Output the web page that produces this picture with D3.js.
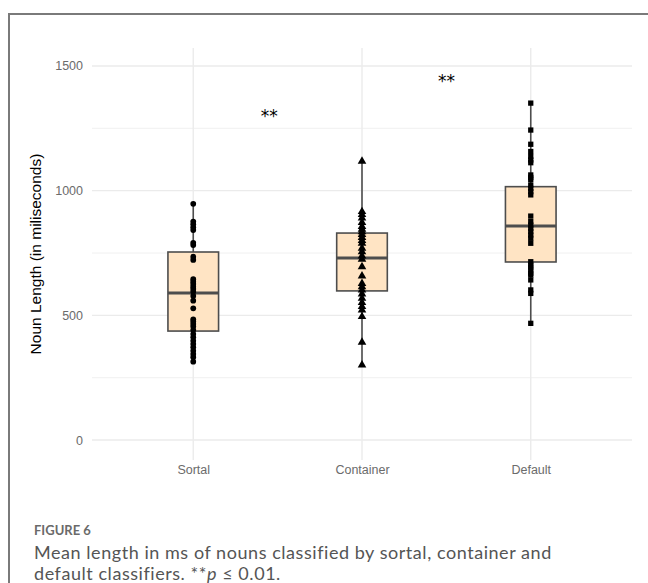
<!DOCTYPE html>
<html>
<head>
<meta charset="utf-8">
<script src="https://cdn.jsdelivr.net/npm/d3@7"></script>
<style>
  body { margin: 0; background: #fff; }
  svg { display: block; }
</style>
</head>
<body>
<div id="chart"></div>
<script>
// data
var categories = ["Sortal", "Container", "Default"];
var shapes = [d3.symbolCircle, d3.symbolTriangle, d3.symbolSquare];

// box stats: [lower whisker, q1, median, q3, upper whisker]
var sortalBox = [309, 437, 590, 754, 950];
var containerBox = [300, 598, 730, 830, 1121];
var defaultBox = [468, 714, 858, 1016, 1352];

var sortalPoints = [947, 876, 865, 853, 842, 791, 782, 735, 722, 645, 635, 626, 615, 606, 595,
  578, 559, 528, 484, 475, 465, 455, 441, 425, 412, 398, 385, 372, 358, 345, 332, 314];
var containerPoints = [1118, 916, 904, 890, 872, 856, 845, 835, 824, 812, 800, 789, 769, 755,
  738, 725, 695, 658, 628, 615, 602, 586, 568, 551, 535, 521, 495, 392, 301];
var defaultPoints = [1351, 1243, 1186, 1157, 1137, 1123, 1112, 1063, 1053, 1045, 1023, 1009,
  996, 983, 898, 876, 862, 849, 836, 822, 809, 789, 715, 702, 693, 682, 669, 662, 642, 602, 588, 468];

// significance marks: [x position, y value]
var sigMarks = [[1.45, 1318], [2.5, 1458]];
var yTicks = [0, 500, 1000, 1500];
var yMinor = [250, 750, 1250];

var boxes = [sortalBox, containerBox, defaultBox];
var points = [sortalPoints, containerPoints, defaultPoints];

var svgWidth = 648;
var svgHeight = 583;

var svg = d3.select("#chart")
  .append("svg")
  .attr("width", svgWidth)
  .attr("height", svgHeight);

// card frame
svg.append("path")
  .attr("d", "M9,590 L9,14 L660,14")
  .attr("fill", "none")
  .attr("stroke", "#7a7a7a")
  .attr("stroke-width", 2);

var x = d3.scaleLinear().domain([0.4, 3.6]).range([92, 632]);
var y = d3.scaleLinear().domain([-80, 1572]).range([460, 48]);

var g = svg.append("g");

// grid
g.selectAll(".minor")
  .data(yMinor)
  .enter().append("line")
  .attr("x1", x(0.4)).attr("x2", x(3.6))
  .attr("y1", d => y(d)).attr("y2", d => y(d))
  .attr("stroke", "#f0f0f0").attr("stroke-width", 1);

g.selectAll(".major")
  .data(yTicks)
  .enter().append("line")
  .attr("x1", x(0.4)).attr("x2", x(3.6))
  .attr("y1", d => y(d)).attr("y2", d => y(d))
  .attr("stroke", "#ebebeb").attr("stroke-width", 1.4);

g.selectAll(".vgrid")
  .data([1, 2, 3])
  .enter().append("line")
  .attr("x1", d => x(d)).attr("x2", d => x(d))
  .attr("y1", y(1572)).attr("y2", y(-80))
  .attr("stroke", "#ebebeb").attr("stroke-width", 1.4);

// axes (text only)
var leftAxis = d3.axisLeft(y).tickValues(yTicks).tickFormat(d3.format("d"))
  .tickSize(0).tickPadding(9);
var bottomAxis = d3.axisBottom(x).tickValues([1, 2, 3])
  .tickFormat((d, i) => categories[i]).tickSize(0).tickPadding(5);

var ya = g.append("g").attr("transform", "translate(" + x(0.4) + ",0)").call(leftAxis);
var xa = g.append("g").attr("transform", "translate(0," + y(-80) + ")").call(bottomAxis);
[ya, xa].forEach(function(a) {
  a.select(".domain").remove();
  a.selectAll("text")
    .attr("fill", "#6b6b6b")
    .style("font-family", "'Liberation Sans', Arial, sans-serif")
    .style("font-size", "12.5px");
});

// boxes
var bw = 0.3;
boxes.forEach(function(b, i) {
  var cx = i + 1;
  var grp = g.append("g");
  grp.append("line")
    .attr("x1", x(cx)).attr("x2", x(cx))
    .attr("y1", y(b[0])).attr("y2", y(b[1]))
    .attr("stroke", "#4d4d4d").attr("stroke-width", 1.6);
  grp.append("line")
    .attr("x1", x(cx)).attr("x2", x(cx))
    .attr("y1", y(b[3])).attr("y2", y(b[4]))
    .attr("stroke", "#4d4d4d").attr("stroke-width", 1.6);
  grp.append("rect")
    .attr("x", x(cx - bw / 2))
    .attr("y", y(b[3]))
    .attr("width", x(cx + bw / 2) - x(cx - bw / 2))
    .attr("height", y(b[1]) - y(b[3]))
    .attr("fill", "#ffe4c4")
    .attr("stroke", "#4d4d4d").attr("stroke-width", 1.6);
  grp.append("line")
    .attr("x1", x(cx - bw / 2)).attr("x2", x(cx + bw / 2))
    .attr("y1", y(b[2])).attr("y2", y(b[2]))
    .attr("stroke", "#4d4d4d").attr("stroke-width", 3);
});

// points
var sizes = [26, 32, 28];
points.forEach(function(p, i) {
  var sym = d3.symbol().type(shapes[i]).size(sizes[i]);
  g.append("g").selectAll("path")
    .data(p)
    .enter().append("path")
    .attr("d", sym)
    .attr("transform", d => "translate(" + x(i + 1) + "," + y(d) + ")")
    .attr("fill", "#000");
});

// significance stars
g.selectAll(".sig")
  .data(sigMarks)
  .enter().append("text")
  .attr("x", d => x(d[0]))
  .attr("y", d => y(d[1]))
  .attr("dy", "0.6em")
  .attr("text-anchor", "middle")
  .style("font-family", "'DejaVu Sans', sans-serif")
  .style("font-size", "17px")
  .attr("fill", "#000")
  .text("**");

// y title
g.append("text")
  .attr("transform", "translate(41," + y(746) + ") rotate(-90)")
  .attr("text-anchor", "middle")
  .style("font-family", "'Liberation Sans', Arial, sans-serif")
  .style("font-size", "15.5px")
  .attr("fill", "#000")
  .text("Noun Length (in miliseconds)");

// caption
svg.append("text")
  .attr("x", 34).attr("y", 535)
  .style("font-family", "Lato, 'Open Sans', sans-serif")
  .style("font-size", "13px")
  .style("font-weight", "bold")
  .attr("fill", "#6a6a6a")
  .text("FIGURE 6");

svg.append("text")
  .attr("x", 34).attr("y", 559)
  .style("font-family", "Lato, 'Open Sans', sans-serif")
  .style("font-size", "18px")
  .style("letter-spacing", "0.55px")
  .attr("fill", "#555")
  .text("Mean length in ms of nouns classified by sortal, container and");

var l2 = svg.append("text")
  .attr("x", 34).attr("y", 580)
  .style("font-family", "Lato, 'Open Sans', sans-serif")
  .style("font-size", "18px")
  .style("letter-spacing", "0.55px")
  .attr("fill", "#555");
l2.append("tspan").text("default classifiers. **");
l2.append("tspan").style("font-style", "italic").text("p");
l2.append("tspan").text(" \u2264 0.01.");
</script>
</body>
</html>
